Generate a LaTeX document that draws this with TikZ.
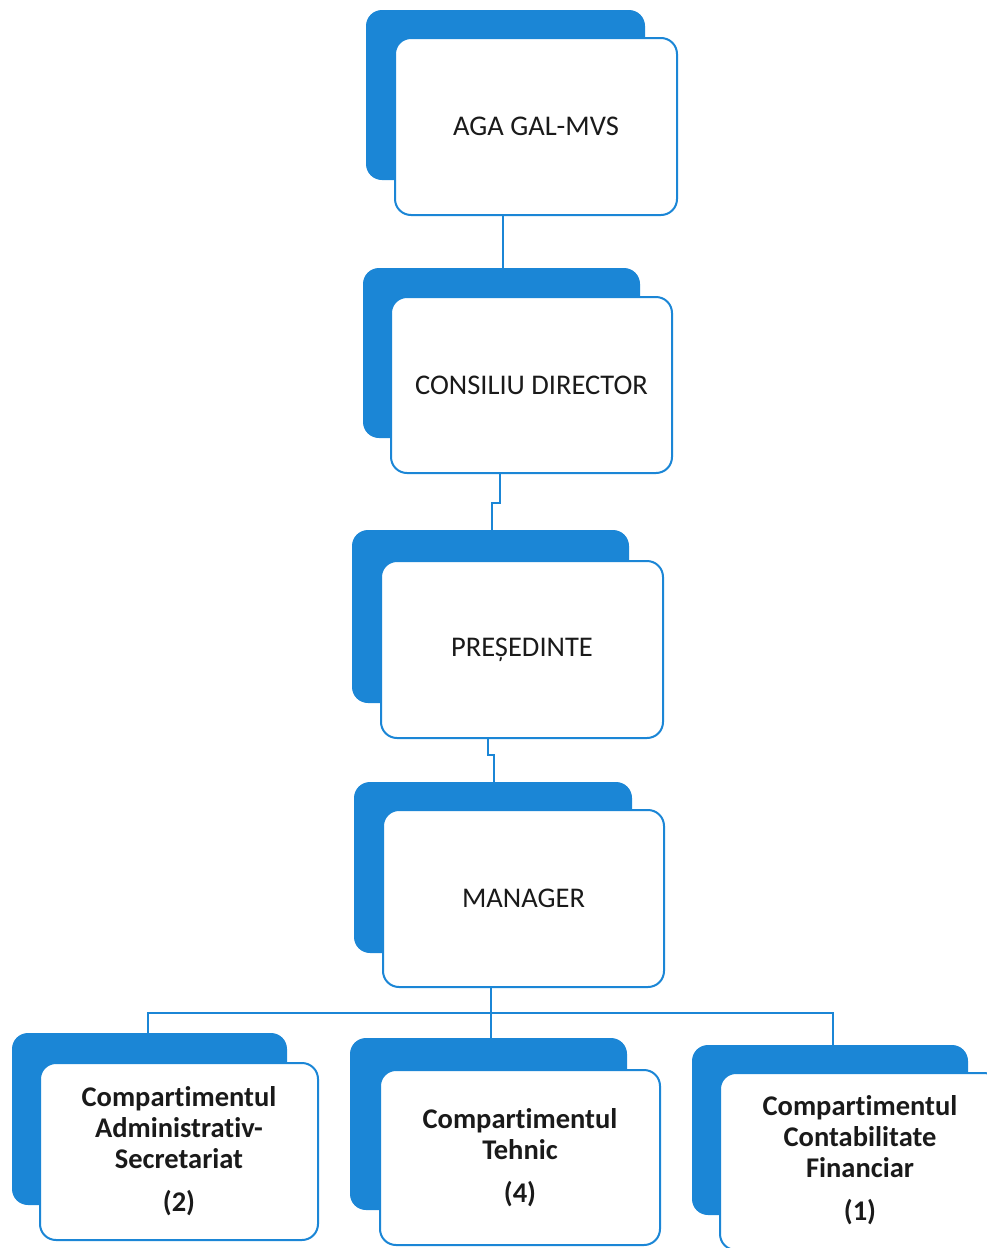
\documentclass[tikz,border=0pt]{standalone}
\usepackage{fontspec}
\setmainfont[Ligatures=NoCommon]{Carlito}
\definecolor{orgblue}{HTML}{1B86D6}
\definecolor{txt}{HTML}{1A1A1A}
\begin{document}
\begin{tikzpicture}[x=1pt,y=-1pt,
  back/.style={fill=orgblue, draw=none, rounded corners=16pt, inner sep=0pt},
  front/.style={fill=white, draw=orgblue, line width=2pt, rounded corners=16pt, inner sep=0pt, align=center, text=txt},
  toptext/.style={font=\fontsize{28.5}{30}\selectfont},
  bottext/.style={font=\bfseries\fontsize{28.5}{31}\selectfont},
  conn/.style={draw=orgblue, line width=2pt}]
\useasboundingbox (0,0) rectangle (987,1248);
% level 1
\node[back, minimum width=279pt, minimum height=170pt] (b1) at (505.5,95) {};
\node[front, toptext, minimum width=282pt, minimum height=177pt] (f1) at (536,126.5) {AGA GAL-MVS};
% level 2
\node[back, minimum width=277pt, minimum height=170pt] (b2) at (501.5,353) {};
\node[front, toptext, minimum width=281pt, minimum height=176pt] (f2) at (531.5,385) {CONSILIU DIRECTOR};
% level 3
\node[back, minimum width=277pt, minimum height=173pt] (b3) at (490.5,616.5) {};
\node[front, toptext, minimum width=282pt, minimum height=177pt] (f3) at (522,649.5) {PREȘEDINTE};
% level 4
\node[back, minimum width=278pt, minimum height=171pt] (b4) at (493,867.5) {};
\node[front, toptext, minimum width=281pt, minimum height=177pt] (f4) at (523.5,898.5) {MANAGER};
% bottom
\node[back, minimum width=275pt, minimum height=172pt] (bl) at (149.5,1119) {};
\node[front, bottext, minimum width=278pt, minimum height=177pt] (fl) at (179,1151.5) {Compartimentul\\Administrativ-\\Secretariat\\[12pt](2)};
\node[back, minimum width=277pt, minimum height=172pt] (bm) at (488.5,1124) {};
\node[front, bottext, minimum width=280pt, minimum height=175pt] (fm) at (520,1157.5) {Compartimentul\\Tehnic\\[12pt](4)};
\node[back, minimum width=276pt, minimum height=170pt] (br) at (830,1130) {};
\node[front, minimum width=280pt, minimum height=177pt] (fr) at (860,1161.5) {};
\node[bottext, text=txt, align=center] (tr) at (860,1160) {Compartimentul\\Contabilitate\\Financiar\\[12pt](1)};
% connectors
\draw[conn] (503,0 |- f1.south) -- (503,0 |- b2.north);
\coordinate (k2a) at (500,503);
\coordinate (k2b) at (492,503);
\draw[conn] (k2a |- f2.south) -- (k2a) -- (k2b) -- (k2b |- b3.north);
\coordinate (k3a) at (488,755);
\coordinate (k3b) at (494,755);
\draw[conn] (k3a |- f3.south) -- (k3a) -- (k3b) -- (k3b |- b4.north);
\coordinate (hl) at (148,1013);
\coordinate (hr) at (833,1013);
\draw[conn] (491,0 |- f4.south) -- (491,0 |- bm.north);
\draw[conn] (hl |- bl.north) -- (hl) -- (hr) -- (hr |- br.north);
\end{tikzpicture}
\end{document}
